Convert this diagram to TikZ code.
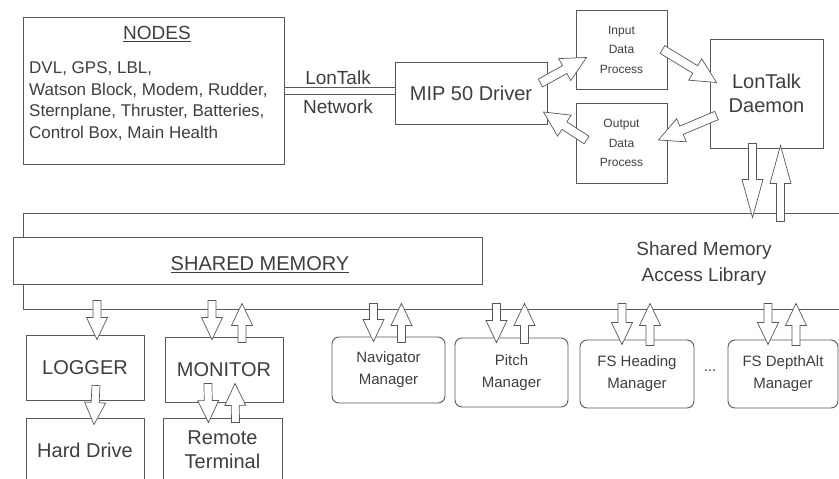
\documentclass[tikz,border=0pt]{standalone}
\usepackage{fontspec}
\setmainfont{Liberation Sans}
\usetikzlibrary{calc}
\definecolor{ink}{RGB}{88,88,88}
\definecolor{txt}{RGB}{62,62,62}
\def\fatw{4pt}\def\fath{10.5pt}\def\fatl{22pt}

\begin{document}
\begin{tikzpicture}[x=1pt,y=-1pt,
    every node/.style={text=txt},
    blk/.style={draw=ink,line width=0.9pt,inner sep=0pt,align=center},
    mgr/.style={blk,rounded corners=7pt,font=\fontsize{15}{22}\selectfont},
    big/.style={font=\fontsize{20}{24}\selectfont},
    fat/.style={draw=ink,fill=white,line width=0.7pt,line join=miter,
      to path={let \p1=(\tikztostart), \p2=(\tikztotarget) in
        ($(\p1)!\fatw!90:(\p2)$) -- ($(\p2)!\fatl!(\p1)!\fatw!-90:(\p1)$)
        -- ($(\p2)!\fatl!(\p1)!\fath!-90:(\p1)$) -- (\p2)
        -- ($(\p2)!\fatl!(\p1)!\fath!90:(\p1)$) -- ($(\p2)!\fatl!(\p1)!\fatw!90:(\p1)$)
        -- ($(\p1)!\fatw!-90:(\p2)$) -- cycle}},
    longhead/.code={\def\fatl{38pt}},
    widehead/.code={\def\fatw{4.5pt}\def\fath{12.5pt}\def\fatl{25pt}}]
  \useasboundingbox (0,0) rectangle (839,479);

  % top row
  \node[blk,minimum width=261,minimum height=147] (nodesbox) at (153.5,90.5) {};
  \node[font=\fontsize{19}{22}\selectfont] (nodestitle) at (157,34) {\underline{NODES}};
  \node[anchor=west,align=left,inner sep=0pt,font=\fontsize{17}{21.5}\selectfont] (nodeslist) at (29,101)
    {DVL, GPS, LBL,\\Watson Block, Modem, Rudder,\\Sternplane, Thruster, Batteries,\\Control Box, Main Health};
  \node[blk,big,minimum width=152,minimum height=62] (driver) at (471,93) {MIP 50 Driver};
  \node[blk,minimum width=91,minimum height=79,font=\fontsize{12}{19.5}\selectfont] (inp) at (621.5,49.5) {Input\\Data\\Process};
  \node[blk,minimum width=91,minimum height=80,font=\fontsize{12}{19.5}\selectfont] (outp) at (621.5,143) {Output\\Data\\Process};
  \node[blk,big,minimum width=113,minimum height=109] (daemon) at (766.5,93.5) {LonTalk\\Daemon};

  \draw[ink,line width=0.8pt] ($(nodesbox.east)+(0,-3.5)$) -- ($(nodesbox.east -| driver.west)+(0,-3.5)$);
  \draw[ink,line width=0.8pt] ($(nodesbox.east)+(0,3.5)$) -- ($(nodesbox.east -| driver.west)+(0,3.5)$);
  \node[font=\fontsize{19}{22}\selectfont] (nettop) at (338,78) {LonTalk};
  \node[font=\fontsize{19}{22}\selectfont] (netbot) at (338,107) {Network};

  \draw[fat,widehead] ($(driver.east)+(-7,-10)$) to ($(inp.south west)+(11,-32)$);
  \draw[fat,widehead] ($(inp.east)+(-5,0)$) to ($(daemon.west)+(7,-11)$);
  \draw[fat,widehead] ($(daemon.west)+(7,22)$) to ($(outp.east)+(-9,-3)$);
  \draw[fat,widehead] ($(outp.west)+(11,-3)$) to ($(driver.east)+(-4,19)$);

  % shared memory
  \node[blk,minimum width=822,minimum height=96] (lib) at (434,261) {};
  \node[blk,fill=white,minimum width=469,minimum height=47] (shm) at (247.5,260.5) {};
  \node[big] (shmlabel) at (260,265) {\underline{SHARED MEMORY}};
  \node[font=\fontsize{19}{26}\selectfont,align=center] (liblabel) at (704,264) {Shared Memory\\Access Library};

  \draw[fat,longhead] ($(daemon.south)+(-14,-5)$) to ($(daemon.south |- lib.north)+(-14,5)$);
  \draw[fat,longhead] ($(daemon.south |- lib.north)+(14,9)$) to ($(daemon.south)+(14,-3)$);

  % bottom row
  \node[blk,big,minimum width=118,minimum height=65] (logger) at (85,367.5) {LOGGER};
  \node[blk,big,minimum width=118,minimum height=64] (hdd) at (85,450) {Hard Drive};
  \node[blk,big,minimum width=118,minimum height=65] (monitor) at (224,369.5) {MONITOR};
  \node[blk,big,minimum width=119,minimum height=64] (remote) at (222.5,450) {Remote\\Terminal};

  \node[mgr,minimum width=113,minimum height=66] (nav) at (388.5,370) {Navigator\\Manager};
  \node[mgr,minimum width=113,minimum height=69] (pitch) at (511.5,372.5) {Pitch\\Manager};
  \node[mgr,minimum width=114,minimum height=68] (fshead) at (637,374) {FS Heading\\Manager};
  \node[font=\fontsize{15}{18}\selectfont] (dots) at (710,371) {...};
  \node[mgr,minimum width=110,minimum height=68] (fsdepth) at (783,374) {FS DepthAlt\\Manager};

  \draw[fat] ($(logger.north |- lib.south)+(12,-9)$) to ($(logger.north)+(12,5)$);
  \draw[fat] ($(logger.south)+(11,-15)$) to ($(hdd.north)+(9,7)$);
  \draw[fat] ($(monitor.north |- lib.south)+(-12,-9)$) to ($(monitor.north)+(-12,3)$);
  \draw[fat] ($(monitor.north)+(18,6)$) to ($(monitor.north |- lib.south)+(18,-6)$);
  \draw[fat] ($(monitor.south)+(-16,-19)$) to ($(remote.north)+(-14,5)$);
  \draw[fat] ($(remote.north)+(13,5)$) to ($(monitor.south)+(11,-19)$);

  \foreach \m in {nav,pitch,fshead,fsdepth}{
    \draw[fat] ($(\m.north |- lib.south)+(-15,-6)$) to ($(\m.north)+(-15,5)$);
    \draw[fat] ($(\m.north)+(13,6)$) to ($(\m.north |- lib.south)+(13,-6)$);
  }
\end{tikzpicture}
\end{document}
